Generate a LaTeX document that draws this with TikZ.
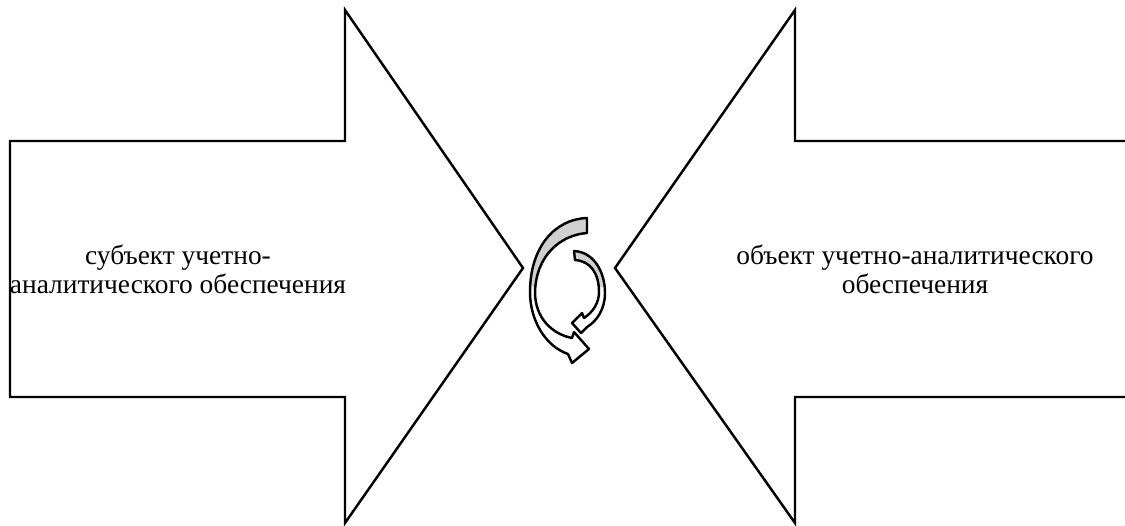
\documentclass[tikz,border=0pt]{standalone}
\usepackage{fontspec}
\setmainfont{Liberation Serif}
\usetikzlibrary{positioning, calc}
\definecolor{Shade}{HTML}{D0D0D0}
\tikzset{
    bigarrow/.style={draw=black, line width=1.4pt, fill=white, line join=miter},
    looparrow/.style={draw=black, line width=1.4pt, line join=round},
    textlabel/.style={align=center, font=\fontsize{15.6}{16.5}\selectfont},
}
% Contours of the two circular arrows
\def\bigloop{(587,218) -- (587,233)
    .. controls (560,235) and (536,256) .. (535,292)
    .. controls (535,318) and (552,334) .. (572,338)
    -- (574,332) -- (589,349) -- (572,363) -- (568,354)
    .. controls (545,346) and (530,320) .. (530,292)
    .. controls (530,247) and (555,219) .. (587,218) -- cycle}
\def\smallloop{(574,251)
    .. controls (594,252) and (605,272) .. (605,293)
    .. controls (605,309) and (597,321) .. (587,327)
    -- (581,333) -- (572,323) -- (582,313) -- (584,318)
    .. controls (593,312) and (599,303) .. (599,292)
    .. controls (599,274) and (591,261) .. (575,260) -- cycle}

\begin{document}
\begin{tikzpicture}[x=0.02cm, y=-0.02cm]
    \clip (0,0) rectangle (1125,525);

    % Left arrow (subject)
    \coordinate (LT) at (345,10);
    \coordinate (LB) at (345,523);
    \coordinate (LTip) at (523,268);
    \draw[bigarrow] (10,141) -- (345,141) -- (LT) -- (LTip) -- (LB) -- (345,397) -- (10,397) -- cycle;

    % Right arrow (object), tail runs past the frame
    \coordinate (RT) at (795,10);
    \coordinate (RB) at (795,523);
    \coordinate (RTip) at (615,268);
    \draw[bigarrow] (1140,141) -- (795,141) -- (RT) -- (RTip) -- (RB) -- (795,397) -- (1140,397) -- cycle;

    % Texts
    \node[textlabel] (subj) at (178,269) {субъект учетно-\\аналитического обеспечения};
    \node[textlabel] (obj) at (915,269) {объект учетно-аналитического\\обеспечения};

    % Circular arrows: white body, grey upper face
    \fill[white] \bigloop;
    \fill[white] \smallloop;
    \begin{scope}
        \clip (500,200) rectangle (620,286);
        \fill[Shade] \bigloop;
        \fill[Shade] \smallloop;
    \end{scope}
    \draw[looparrow] \bigloop;
    \draw[looparrow] \smallloop;
\end{tikzpicture}
\end{document}
